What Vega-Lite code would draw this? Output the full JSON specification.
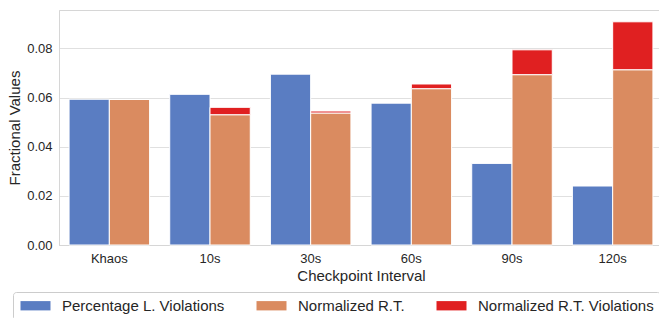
{
  "$schema": "https://vega.github.io/schema/vega-lite/v6.json",
  "width": 604,
  "height": 235,
  "autosize": {"type": "none"},
  "padding": {"left": 59, "top": 10, "right": 0, "bottom": 73},
  "background": "white",
  "config": {
    "font": "Liberation Sans",
    "view": {"stroke": "#d6d6d6", "strokeWidth": 1},
    "axis": {"labelFont": "Liberation Sans", "titleFont": "Liberation Sans", "labelFontSize": 13, "titleFontSize": 15, "titleFontWeight": "normal", "labelColor": "#262626", "titleColor": "#262626", "domainColor": "#d6d6d6", "gridColor": "#e0e0e0", "ticks": false}
  },
  "data": {
    "values": [
      {"interval": "Khaos", "group": "A", "series": "Percentage L. Violations", "rank": 0, "value": 0.0593},
      {"interval": "Khaos", "group": "B", "series": "Normalized R.T.", "rank": 1, "value": 0.0592},
      {"interval": "Khaos", "group": "B", "series": "Normalized R.T. Violations", "rank": 2, "value": 0.0},
      {"interval": "10s", "group": "A", "series": "Percentage L. Violations", "rank": 0, "value": 0.0613},
      {"interval": "10s", "group": "B", "series": "Normalized R.T.", "rank": 1, "value": 0.0530},
      {"interval": "10s", "group": "B", "series": "Normalized R.T. Violations", "rank": 2, "value": 0.0030},
      {"interval": "30s", "group": "A", "series": "Percentage L. Violations", "rank": 0, "value": 0.0695},
      {"interval": "30s", "group": "B", "series": "Normalized R.T.", "rank": 1, "value": 0.0537},
      {"interval": "30s", "group": "B", "series": "Normalized R.T. Violations", "rank": 2, "value": 0.0008},
      {"interval": "60s", "group": "A", "series": "Percentage L. Violations", "rank": 0, "value": 0.0577},
      {"interval": "60s", "group": "B", "series": "Normalized R.T.", "rank": 1, "value": 0.0636},
      {"interval": "60s", "group": "B", "series": "Normalized R.T. Violations", "rank": 2, "value": 0.0019},
      {"interval": "90s", "group": "A", "series": "Percentage L. Violations", "rank": 0, "value": 0.0332},
      {"interval": "90s", "group": "B", "series": "Normalized R.T.", "rank": 1, "value": 0.0693},
      {"interval": "90s", "group": "B", "series": "Normalized R.T. Violations", "rank": 2, "value": 0.0101},
      {"interval": "120s", "group": "A", "series": "Percentage L. Violations", "rank": 0, "value": 0.0240},
      {"interval": "120s", "group": "B", "series": "Normalized R.T.", "rank": 1, "value": 0.0713},
      {"interval": "120s", "group": "B", "series": "Normalized R.T. Violations", "rank": 2, "value": 0.0195}
    ]
  },
  "mark": {"type": "bar", "stroke": "white", "strokeWidth": 1},
  "encoding": {
    "x": {
      "field": "interval", "type": "nominal",
      "sort": ["Khaos", "10s", "30s", "60s", "90s", "120s"],
      "scale": {"paddingInner": 0.2, "paddingOuter": 0.1},
      "axis": {"title": "Checkpoint Interval", "labelAngle": 0, "labelPadding": 7, "titlePadding": 3}
    },
    "xOffset": {"field": "group", "type": "nominal", "scale": {"paddingInner": 0, "paddingOuter": 0}},
    "y": {
      "field": "value", "type": "quantitative", "stack": "zero",
      "scale": {"domain": [0, 0.0956], "nice": false, "zero": true},
      "axis": {"title": "Fractional Values", "values": [0, 0.02, 0.04, 0.06, 0.08], "format": ".2f", "labelPadding": 7, "titlePadding": 4}
    },
    "color": {
      "field": "series", "type": "nominal",
      "sort": ["Percentage L. Violations", "Normalized R.T.", "Normalized R.T. Violations"],
      "scale": {"domain": ["Percentage L. Violations", "Normalized R.T.", "Normalized R.T. Violations"], "range": ["#5a7dc2", "#da8b60", "#e02021"]},
      "legend": {
        "title": null, "orient": "none", "direction": "horizontal",
        "legendX": -46, "legendY": 282,
        "symbolType": "M-1,-0.775H4V0.775H-1Z", "symbolSize": 144, "symbolStrokeWidth": 0,
        "labelFontSize": 15, "labelFont": "Liberation Sans", "labelColor": "#262626", "labelLimit": 400,
        "labelOffset": 28, "columnPadding": 30, "padding": 6,
        "strokeColor": "#cccccc", "cornerRadius": 3, "fillColor": "white"
      }
    },
    "order": {"field": "rank", "type": "quantitative"}
  }
}
